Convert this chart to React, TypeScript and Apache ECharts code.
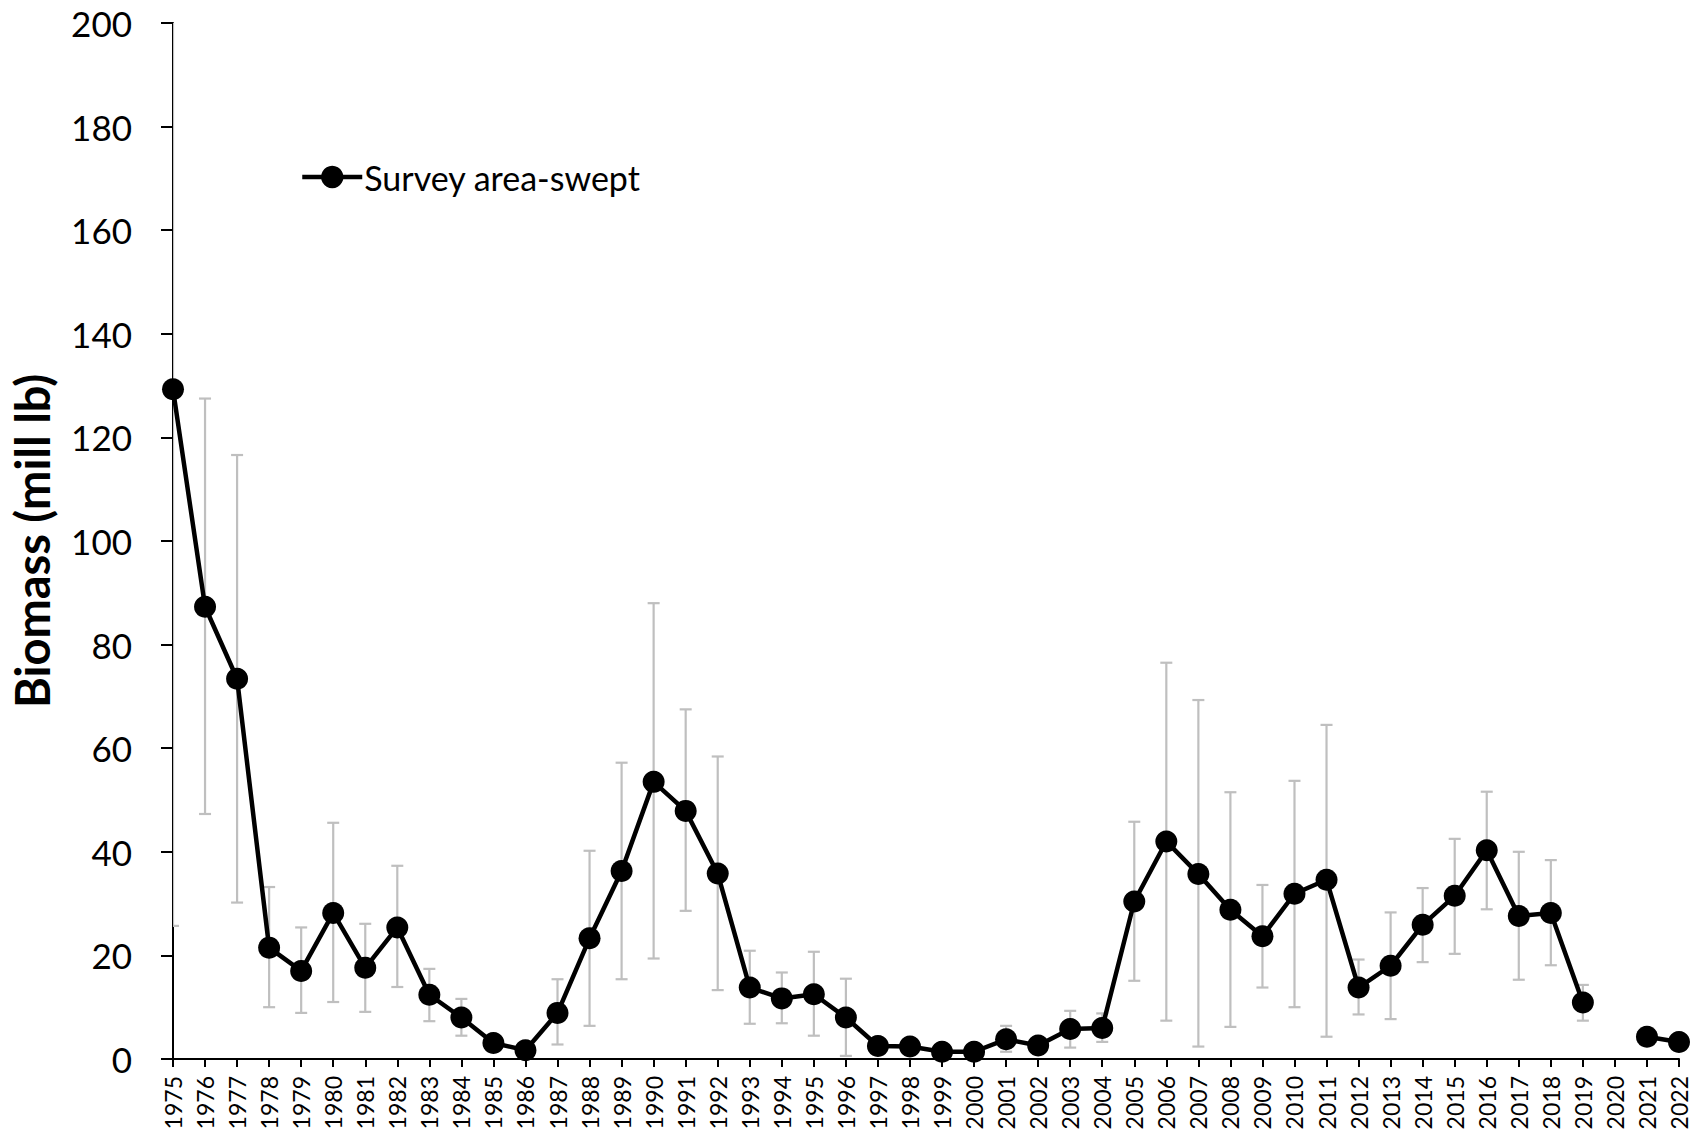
import React, { useEffect, useRef } from "react";
import * as echarts from "echarts";

const years: string[] = [
  "1975","1976","1977","1978","1979","1980","1981","1982","1983","1984",
  "1985","1986","1987","1988","1989","1990","1991","1992","1993","1994",
  "1995","1996","1997","1998","1999","2000","2001","2002","2003","2004",
  "2005","2006","2007","2008","2009","2010","2011","2012","2013","2014",
  "2015","2016","2017","2018","2019","2020","2021","2022",
];

const biomass: (number | null)[] = [
  129.3, 87.3, 73.4, 21.5, 17.0, 28.2, 17.6, 25.4, 12.4, 8.0,
  3.1, 1.7, 8.9, 23.3, 36.3, 53.5, 47.9, 35.8, 13.8, 11.7,
  12.5, 8.0, 2.5, 2.4, 1.4, 1.4, 3.8, 2.6, 5.8, 6.0,
  30.4, 42.0, 35.7, 28.8, 23.7, 31.9, 34.6, 13.8, 18.0, 25.9,
  31.5, 40.3, 27.6, 28.2, 10.9, null, 4.3, 3.3,
];

const lowerCI: (number | null)[] = [
  25.7, 47.3, 30.2, 10.0, 8.9, 11.0, 9.1, 13.9, 7.3, 4.5,
  2.0, 1.0, 2.8, 6.4, 15.4, 19.4, 28.6, 13.3, 6.8, 6.9,
  4.5, 0.6, 1.5, 1.5, 0.7, 0.7, 1.4, 1.8, 2.2, 3.3,
  15.1, 7.4, 2.4, 6.2, 13.8, 10.0, 4.3, 8.6, 7.7, 18.7,
  20.3, 28.9, 15.3, 18.1, 7.4, null, 3.3, 2.5,
];

const upperCI: (number | null)[] = [
  233.0, 127.5, 116.6, 33.2, 25.4, 45.6, 26.1, 37.3, 17.4, 11.6,
  4.5, 2.5, 15.4, 40.2, 57.2, 88.0, 67.5, 58.4, 20.9, 16.7,
  20.7, 15.5, 3.5, 3.3, 2.1, 2.1, 6.4, 3.4, 9.3, 8.8,
  45.8, 76.5, 69.3, 51.5, 33.6, 53.7, 64.5, 19.2, 28.3, 33.0,
  42.5, 51.6, 40.0, 38.4, 14.3, null, 5.3, 4.1,
];

const yTicks = { min: 0, max: 200, interval: 20 };
const FONT = "Lato, 'Open Sans', sans-serif";

export default function App() {
  const ref = useRef<HTMLDivElement>(null);

  useEffect(() => {
    if (!ref.current) return;
    const chart = echarts.init(ref.current, null, { renderer: "svg" });

    const errData: any[] = [];
    years.forEach((_, i) => {
      if (lowerCI[i] != null && upperCI[i] != null) {
        errData.push([i, lowerCI[i], upperCI[i]]);
      }
    });

    const option: any = {
      animation: false,
      backgroundColor: "#ffffff",
      textStyle: { fontFamily: FONT },
      grid: { left: 173, right: 27, top: 23, bottom: 77, containLabel: false },
      legend: {
        data: ["Survey area-swept"],
        left: 295,
        top: 155,
        itemWidth: 60,
        itemHeight: 28,
        itemGap: 5,
        lineStyle: { width: 4.5, color: "#000" },
        itemStyle: { color: "#000" },
        textStyle: { fontFamily: FONT, fontSize: 34, color: "#000", padding: [0, 0, 0, -3] },
      },
      xAxis: {
        type: "category",
        data: years,
        boundaryGap: false,
        axisLine: { show: true, lineStyle: { color: "#000", width: 2 } },
        axisTick: { show: true, alignWithLabel: true, length: 8, lineStyle: { color: "#000", width: 2 }, interval: 0 },
        axisLabel: {
          interval: 0,
          rotate: 90,
          margin: 17,
          fontSize: 23,
          color: "#000",
          fontFamily: FONT,
        },
        splitLine: { show: false },
      },
      yAxis: {
        type: "value",
        min: yTicks.min,
        max: yTicks.max,
        interval: yTicks.interval,
        name: "Biomass (mill lb)",
        nameLocation: "middle",
        nameGap: 118,
        nameTextStyle: { fontFamily: FONT, fontSize: 47, fontWeight: "bold", color: "#000" },
        axisLine: { show: true, lineStyle: { color: "#000", width: 2 } },
        axisTick: { show: true, length: 12, lineStyle: { color: "#000", width: 2 } },
        axisLabel: { fontSize: 35, color: "#000", margin: 41, fontFamily: FONT },
        splitLine: { show: false },
      },
      series: [
        {
          type: "custom",
          name: "CI",
          clip: true,
          z: 1,
          silent: true,
          data: errData,
          encode: { x: 0, y: [1, 2] },
          renderItem: (params: any, api: any) => {
            const xi = api.value(0);
            const lo = api.value(1);
            const hi = api.value(2);
            const pHi = api.coord([xi, hi]);
            const pLo = api.coord([xi, lo]);
            const hw = 6;
            const st = { stroke: "#BFBFBF", lineWidth: 2.2 };
            return {
              type: "group",
              children: [
                { type: "line", shape: { x1: pHi[0], y1: pHi[1], x2: pLo[0], y2: pLo[1] }, style: st },
                { type: "line", shape: { x1: pHi[0] - hw, y1: pHi[1], x2: pHi[0] + hw, y2: pHi[1] }, style: st },
                { type: "line", shape: { x1: pLo[0] - hw, y1: pLo[1], x2: pLo[0] + hw, y2: pLo[1] }, style: st },
              ],
            };
          },
        },
        {
          type: "line",
          name: "Survey area-swept",
          data: biomass,
          z: 3,
          connectNulls: false,
          symbol: "circle",
          symbolSize: 22,
          showSymbol: true,
          clip: false,
          lineStyle: { color: "#000", width: 4.5 },
          itemStyle: { color: "#000" },
        },
      ],
    };

    chart.setOption(option);
    return () => chart.dispose();
  }, []);

  return (
    <div
      ref={ref}
      style={{ position: "fixed", left: 0, top: 0, width: 1706, height: 1136, background: "#fff" }}
    />
  );
}
